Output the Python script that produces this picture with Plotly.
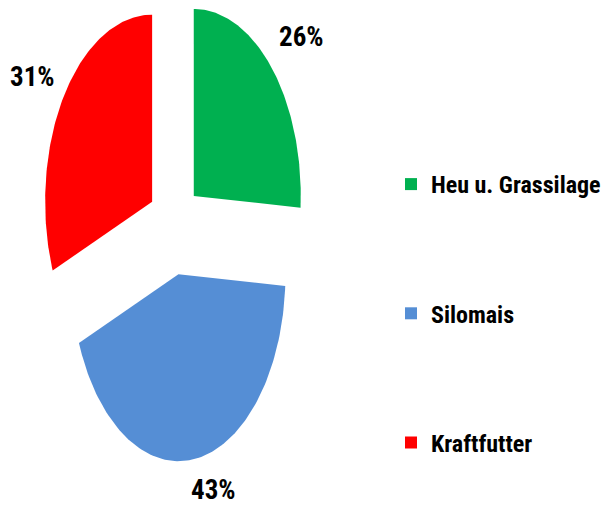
import numpy as np
import plotly.graph_objects as go

categories = ["Heu u. Grassilage", "Silomais", "Kraftfutter"]
values = [26, 43, 31]
labels = ["26%", "43%", "31%"]
colors = ["#00B050", "#558ED5", "#FF0000"]

EXPLODE = 0.25
FONT = "Roboto Condensed, Liberation Sans Narrow, DejaVu Sans Condensed, Liberation Sans, sans-serif"

# page body has an 8px margin, so the figure is sized to fit the 609x507 window
W, H = 601, 499

fig = go.Figure()
total = float(sum(values))
start = 0.0
label_shift = [(10, -1), (14, 15), (-9, -7)]
for i, (cat, v, col) in enumerate(zip(categories, values, colors)):
    a0 = start / total * 2 * np.pi
    a1 = (start + v) / total * 2 * np.pi
    start += v
    mid = (a0 + a1) / 2
    ox, oy = EXPLODE * np.sin(mid), EXPLODE * np.cos(mid)
    th = np.linspace(a0, a1, 120)
    xs = np.concatenate([[ox], ox + np.sin(th), [ox]])
    ys = np.concatenate([[oy], oy + np.cos(th), [oy]])
    fig.add_trace(go.Scatter(x=xs, y=ys, fill="toself", fillcolor=col,
                             mode="lines", line=dict(width=0, color=col),
                             showlegend=False, hoverinfo="skip"))
    r = 1.5
    fig.add_annotation(x=r * np.sin(mid), y=r * np.cos(mid), text=labels[i],
                       showarrow=False, xanchor="center", yanchor="middle",
                       xshift=label_shift[i][0], yshift=label_shift[i][1],
                       font=dict(family=FONT, size=27, color="#000000", weight="bold"))

# legend entries in order green, blue, red
for i, (cat, col) in enumerate(zip(categories, colors)):
    fig.add_trace(go.Scatter(x=[None], y=[None], mode="markers", name=cat,
                             legendgroup=cat,
                             marker=dict(symbol="square", size=12, color=col)))

fig.update_layout(
    width=W, height=H,
    margin=dict(l=0, r=0, t=0, b=0, autoexpand=False),
    paper_bgcolor="white", plot_bgcolor="white",
    xaxis=dict(range=[-1.554, 4.063], visible=False, fixedrange=True),
    yaxis=dict(range=[-1.492, 1.176], visible=False, fixedrange=True),
    legend=dict(x=383 / W, y=1 - 154 / H, xanchor="left", yanchor="top",
                traceorder="grouped", tracegroupgap=95,
                font=dict(family=FONT, size=24, color="#000000", weight="bold"),
                bgcolor="rgba(0,0,0,0)"),
    showlegend=True,
)

fig.write_html("out.html")
